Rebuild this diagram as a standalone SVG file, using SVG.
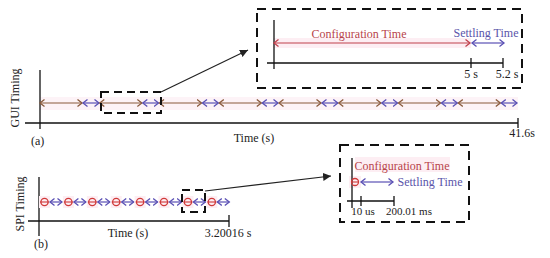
<svg xmlns="http://www.w3.org/2000/svg" width="550" height="258" viewBox="0 0 550 258">
<style>
text{font-family:"Liberation Serif","Times New Roman",serif;font-size:12px;fill:#222}
.ax{stroke:#111;stroke-width:1.3;fill:none}
.box{fill:none;stroke:#111;stroke-width:2}
.big{stroke-dasharray:9 6}
.small{stroke-dasharray:8 5}
.cfg{stroke:#8a5a3c;stroke-width:1.2;marker-start:url(#mCfg);marker-end:url(#mCfg)}
.cfgr{stroke:#c0404c;stroke-width:1.2;marker-start:url(#mCfgR);marker-end:url(#mCfgR)}
.set{stroke:#5a50b4;stroke-width:1.2;marker-start:url(#mSet);marker-end:url(#mSet)}
.ring{fill:none;stroke:#d03a3a;stroke-width:1.3}
.ringl{stroke:#d03a3a;stroke-width:1.1}
.pink{fill:#fdeef3}
.red{fill:#b8444a}
.blue{fill:#5a55aa}
.con{stroke:#222;stroke-width:1.2;fill:none;marker-end:url(#mCon)}
</style>
<defs>
<marker id="mCfg" markerUnits="userSpaceOnUse" markerWidth="8" markerHeight="10" refX="5" refY="4" orient="auto-start-reverse"><path d="M0.5,0.5 L5,4 L0.5,7.5" fill="none" stroke="#8a5a3c" stroke-width="1.3"/></marker>
<marker id="mCfgR" markerUnits="userSpaceOnUse" markerWidth="8" markerHeight="10" refX="5" refY="4" orient="auto-start-reverse"><path d="M0.5,0.5 L5,4 L0.5,7.5" fill="none" stroke="#c0404c" stroke-width="1.3"/></marker>
<marker id="mSet" markerUnits="userSpaceOnUse" markerWidth="8" markerHeight="10" refX="5" refY="4" orient="auto-start-reverse"><path d="M0.5,0.5 L5,4 L0.5,7.5" fill="none" stroke="#5a50b4" stroke-width="1.3"/></marker>
<marker id="mCon" markerUnits="userSpaceOnUse" markerWidth="10" markerHeight="10" refX="8" refY="4" orient="auto"><path d="M0,0 L8,4 L0,8 Z" fill="#222"/></marker>
</defs>
<rect width="550" height="258" fill="#fff"/>

<g id="panel-a">
  <rect x="40" y="97" width="478" height="13" fill="#fdf3f7"/>
  <line class="ax" x1="40" y1="70" x2="40" y2="129"/>
  <line class="ax" x1="25" y1="123" x2="518" y2="123"/>
  <line class="ax" x1="518" y1="118" x2="518" y2="128"/>
  <text transform="translate(19,98) rotate(-90)" text-anchor="middle">GUI Timing</text>
  <text x="31" y="145">(a)</text>
  <text x="254" y="142" text-anchor="middle">Time (s)</text>
  <text x="522" y="137" text-anchor="middle">41.6s</text>
  <g id="gui-row">
    <line class="cfg" x1="40" y1="103" x2="82" y2="103"/><line class="set" x1="83" y1="103" x2="99" y2="103"/>
    <line class="cfg" x1="99.8" y1="103" x2="141.8" y2="103"/><line class="set" x1="142.8" y1="103" x2="158.5" y2="103"/>
    <line class="cfg" x1="159.5" y1="103" x2="201.5" y2="103"/><line class="set" x1="202.5" y1="103" x2="218.3" y2="103"/>
    <line class="cfg" x1="219.3" y1="103" x2="261.3" y2="103"/><line class="set" x1="262.3" y1="103" x2="278" y2="103"/>
    <line class="cfg" x1="279" y1="103" x2="321" y2="103"/><line class="set" x1="322" y1="103" x2="337.8" y2="103"/>
    <line class="cfg" x1="338.8" y1="103" x2="380.8" y2="103"/><line class="set" x1="381.8" y1="103" x2="397.5" y2="103"/>
    <line class="cfg" x1="398.5" y1="103" x2="440.5" y2="103"/><line class="set" x1="441.5" y1="103" x2="457.3" y2="103"/>
    <line class="cfg" x1="458.3" y1="103" x2="500.3" y2="103"/><line class="set" x1="501.3" y1="103" x2="517" y2="103"/>
  </g>
</g>

<g id="zoom-a-small"><rect class="box small" x="101" y="92" width="60" height="21"/></g>

<g id="zoom-a-big">
  <rect class="box big" x="257" y="9" width="265" height="79"/>
  <rect class="pink" x="273" y="38" width="198" height="10"/>
  <line class="ax" x1="274" y1="20" x2="274" y2="69"/>
  <line class="ax" x1="267" y1="63" x2="503" y2="63"/>
  <line class="ax" x1="471" y1="58" x2="471" y2="68"/>
  <line class="ax" x1="503" y1="58" x2="503" y2="68"/>
  <line class="cfgr" x1="274" y1="43" x2="470" y2="43"/>
  <line class="set" x1="472" y1="43" x2="504" y2="43"/>
  <text class="red" x="359" y="38" text-anchor="middle">Configuration Time</text>
  <text class="blue" x="486" y="37" text-anchor="middle">Settling Time</text>
  <text x="471" y="78" text-anchor="middle">5 s</text>
  <text x="507" y="78" text-anchor="middle">5.2 s</text>
</g>

<g id="panel-b">
  <line class="ax" x1="39" y1="177" x2="39" y2="236"/>
  <line class="ax" x1="28" y1="221" x2="229" y2="221"/>
  <line class="ax" x1="229" y1="215" x2="229" y2="227"/>
  <text transform="translate(24,204) rotate(-90)" text-anchor="middle">SPI Timing</text>
  <text x="34" y="248">(b)</text>
  <text x="128" y="237" text-anchor="middle">Time (s)</text>
  <text x="228" y="237" text-anchor="middle">3.20016 s</text>
  <g id="spi-row">
    <rect class="pink" x="39" y="196" width="11" height="12"/><circle class="ring" cx="44.5" cy="202" r="3.6"/><line class="ringl" x1="40" y1="202" x2="49" y2="202"/><line class="set" x1="50" y1="202" x2="62" y2="202"/>
    <rect class="pink" x="62.9" y="196" width="11" height="12"/><circle class="ring" cx="68.4" cy="202" r="3.6"/><line class="ringl" x1="63.9" y1="202" x2="72.9" y2="202"/><line class="set" x1="73.9" y1="202" x2="85.9" y2="202"/>
    <rect class="pink" x="86.8" y="196" width="11" height="12"/><circle class="ring" cx="92.3" cy="202" r="3.6"/><line class="ringl" x1="87.8" y1="202" x2="96.8" y2="202"/><line class="set" x1="97.8" y1="202" x2="109.8" y2="202"/>
    <rect class="pink" x="110.7" y="196" width="11" height="12"/><circle class="ring" cx="116.2" cy="202" r="3.6"/><line class="ringl" x1="111.7" y1="202" x2="120.7" y2="202"/><line class="set" x1="121.7" y1="202" x2="133.7" y2="202"/>
    <rect class="pink" x="134.6" y="196" width="11" height="12"/><circle class="ring" cx="140.1" cy="202" r="3.6"/><line class="ringl" x1="135.6" y1="202" x2="144.6" y2="202"/><line class="set" x1="145.6" y1="202" x2="157.6" y2="202"/>
    <rect class="pink" x="158.5" y="196" width="11" height="12"/><circle class="ring" cx="164" cy="202" r="3.6"/><line class="ringl" x1="159.5" y1="202" x2="168.5" y2="202"/><line class="set" x1="169.5" y1="202" x2="181.5" y2="202"/>
    <rect class="pink" x="182.4" y="196" width="11" height="12"/><circle class="ring" cx="187.9" cy="202" r="3.6"/><line class="ringl" x1="183.4" y1="202" x2="192.4" y2="202"/><line class="set" x1="193.4" y1="202" x2="205.4" y2="202"/>
    <rect class="pink" x="206.3" y="196" width="11" height="12"/><circle class="ring" cx="211.8" cy="202" r="3.6"/><line class="ringl" x1="207.3" y1="202" x2="216.3" y2="202"/><line class="set" x1="217.3" y1="202" x2="229.3" y2="202"/>
  </g>
</g>

<g id="zoom-b-small"><rect class="box small" x="182" y="190" width="23" height="22"/></g>

<g id="zoom-b-big">
  <rect class="box big" x="340" y="145" width="129" height="77"/>
  <rect class="pink" x="355" y="157" width="95" height="15"/>
  <rect class="pink" x="349" y="176" width="12" height="12"/>
  <line class="ax" x1="352" y1="158" x2="352" y2="208"/>
  <line class="ax" x1="347" y1="201" x2="394" y2="201"/>
  <line class="ax" x1="361" y1="196" x2="361" y2="206"/>
  <line class="ax" x1="394" y1="196" x2="394" y2="206"/>
  <circle class="ring" cx="355" cy="182" r="3.5"/><line class="ringl" x1="351" y1="182" x2="359" y2="182"/>
  <line class="set" x1="361" y1="182" x2="393" y2="182"/>
  <text class="red" x="402" y="170" text-anchor="middle">Configuration Time</text>
  <text class="blue" x="430" y="186" text-anchor="middle">Settling Time</text>
  <text x="363" y="215" text-anchor="middle" style="font-size:11px">10 us</text>
  <text x="409" y="215" text-anchor="middle" style="font-size:11px">200.01 ms</text>
</g>

<g id="connectors">
  <line class="con" x1="161" y1="92" x2="248" y2="50"/>
  <line class="con" x1="205" y1="191" x2="331" y2="176"/>
</g>
</svg>
